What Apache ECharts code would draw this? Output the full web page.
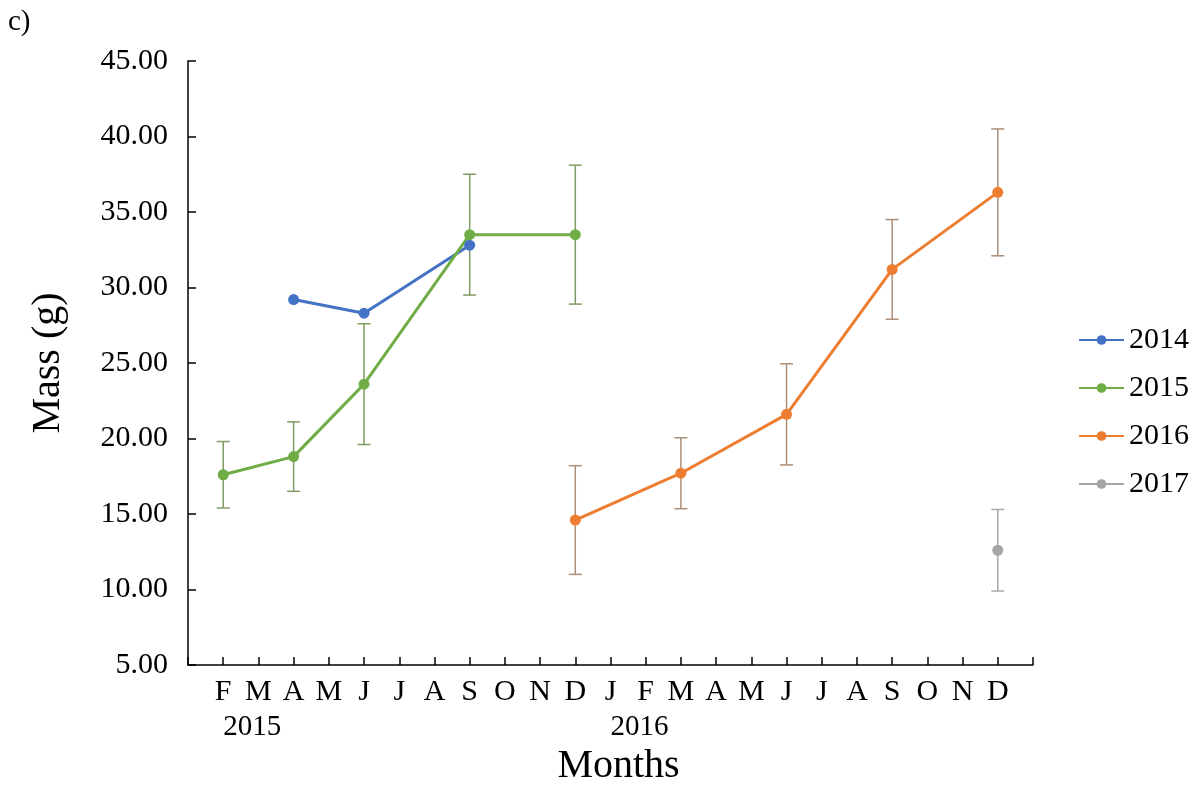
<!DOCTYPE html>
<html>
<head>
<meta charset="utf-8">
<script src="https://cdn.jsdelivr.net/npm/echarts@6/dist/echarts.min.js"></script>
<style>
html,body{margin:0;padding:0;background:#fff;}
#chart{width:1201px;height:785px;}
</style>
</head>
<body>
<div id="chart"></div>
<script>
// Categories: Jan 2015 ... Jan 2017 (monthly)
var categories = ['2015-01','2015-02','2015-03','2015-04','2015-05','2015-06','2015-07','2015-08','2015-09','2015-10','2015-11','2015-12',
                  '2016-01','2016-02','2016-03','2016-04','2016-05','2016-06','2016-07','2016-08','2016-09','2016-10','2016-11','2016-12','2017-01'];
var monthLabels = ['', 'F','M','A','M','J','J','A','S','O','N','D','J','F','M','A','M','J','J','A','S','O','N','D',''];
var yearLabels  = ['', '2015','','','','','','','','','','','2016','','','','','','','','','','','',''];
var seriesNames = ['2014','2015','2016','2017'];

// Mean mass (g); null = no sample
var mass2014 = [null,null,null,29.2,null,28.3,null,null,32.8,null,null,null,null,null,null,null,null,null,null,null,null,null,null,null,null];
var mass2015 = [null,17.6,null,18.8,null,23.6,null,null,33.5,null,null,33.5,null,null,null,null,null,null,null,null,null,null,null,null,null];
var mass2016 = [null,null,null,null,null,null,null,null,null,null,null,14.6,null,null,17.7,null,null,21.6,null,null,31.2,null,null,36.3,null];
var mass2017 = [null,null,null,null,null,null,null,null,null,null,null,null,null,null,null,null,null,null,null,null,null,null,null,12.6,null];

// Error bar half-widths (g)
var err2015 = [null,2.2,null,2.3,null,4.0,null,null,4.0,null,null,4.6,null,null,null,null,null,null,null,null,null,null,null,null,null];
var err2016 = [null,null,null,null,null,null,null,null,null,null,null,3.6,null,null,2.35,null,null,3.35,null,null,3.3,null,null,4.2,null];
var err2017 = [null,null,null,null,null,null,null,null,null,null,null,null,null,null,null,null,null,null,null,null,null,null,null,2.7,null];

var yTicks = {min: 5, max: 45, interval: 5};

var colors = ['#4472C4', '#70AD47', '#ED7D31', '#A5A5A5'];
var errColors = ['#4472C4', '#7f9a63', '#ad8e76', '#a8a8a8'];
var FONT = '"Liberation Serif", "Times New Roman", serif';

function errData(mean, err) {
  var out = [];
  for (var i = 0; i < mean.length; i++) {
    if (mean[i] != null && err[i] != null) out.push([i, mean[i] - err[i], mean[i] + err[i]]);
  }
  return out;
}

function errSeries(mean, err, color) {
  return {
    type: 'custom',
    xAxisIndex: 0,
    z: 1,
    silent: true,
    data: errData(mean, err),
    renderItem: function (params, api) {
      var x = api.value(0);
      var lo = api.coord([x, api.value(1)]);
      var hi = api.coord([x, api.value(2)]);
      var hw = 6.5;
      var st = {stroke: color, lineWidth: 1.5};
      return {
        type: 'group',
        children: [
          {type: 'line', shape: {x1: lo[0], y1: lo[1], x2: hi[0], y2: hi[1]}, style: st},
          {type: 'line', shape: {x1: lo[0] - hw, y1: lo[1], x2: lo[0] + hw, y2: lo[1]}, style: st},
          {type: 'line', shape: {x1: hi[0] - hw, y1: hi[1], x2: hi[0] + hw, y2: hi[1]}, style: st}
        ]
      };
    }
  };
}

function lineSeries(name, data, color) {
  return {
    name: name,
    type: 'line',
    xAxisIndex: 0,
    data: data,
    connectNulls: true,
    symbol: 'circle',
    symbolSize: 11,
    z: 3,
    itemStyle: {color: color},
    lineStyle: {color: color, width: 3}
  };
}

var chart = echarts.init(document.getElementById('chart'));
chart.setOption({
  animation: false,
  backgroundColor: '#fff',
  textStyle: {fontFamily: FONT},
  graphic: [{
    type: 'text', left: 8, top: 8,
    style: {text: 'c)', font: '29px ' + FONT, fill: '#000'}
  }],
  legend: {
    orient: 'vertical',
    left: 1073,
    top: 320,
    padding: 5,
    itemWidth: 45,
    itemHeight: 12,
    itemGap: 18,
    data: seriesNames,
    textStyle: {fontFamily: FONT, fontSize: 30, color: '#000', lineHeight: 30, padding: [0, 0, 0, 0]}
  },
  grid: {left: 188, right: 168, top: 61, bottom: 120, containLabel: false, outerBoundsMode: 'none'},
  xAxis: [{
    type: 'category',
    data: categories,
    boundaryGap: false,
    name: 'Months',
    nameLocation: 'middle',
    nameGap: 81,
    nameTextStyle: {fontFamily: FONT, fontSize: 40, color: '#000', padding: [0, 0, 0, 16]},
    axisLine: {lineStyle: {color: '#000', width: 1.5}},
    axisTick: {show: true, inside: true, length: 8, interval: 0, lineStyle: {color: '#000', width: 1.5}},
    axisLabel: {interval: 0, margin: 12, fontFamily: FONT, fontSize: 30, color: '#000',
      formatter: function (v, i) { return monthLabels[i]; }},
    splitLine: {show: false}
  }, {
    type: 'category',
    data: categories,
    boundaryGap: false,
    position: 'bottom',
    gridIndex: 0,
    axisLine: {show: false},
    axisTick: {show: false},
    axisLabel: {interval: 0, margin: 48, align: 'left', fontFamily: FONT, fontSize: 29, color: '#000',
      formatter: function (v, i) { return yearLabels[i]; }},
    splitLine: {show: false}
  }],
  yAxis: {
    type: 'value',
    min: yTicks.min,
    max: yTicks.max,
    interval: yTicks.interval,
    name: 'Mass (g)',
    nameLocation: 'middle',
    nameGap: 120,
    nameTextStyle: {fontFamily: FONT, fontSize: 40, color: '#000'},
    axisLine: {show: true, lineStyle: {color: '#000', width: 1.5}},
    axisTick: {show: true, inside: true, length: 8, lineStyle: {color: '#000', width: 1.5}},
    axisLabel: {margin: 20, fontFamily: FONT, fontSize: 30, color: '#000',
      formatter: function (v) { return v.toFixed(2); }},
    splitLine: {show: false}
  },
  series: [
    errSeries(mass2015, err2015, errColors[1]),
    errSeries(mass2016, err2016, errColors[2]),
    errSeries(mass2017, err2017, errColors[3]),
    lineSeries(seriesNames[0], mass2014, colors[0]),
    lineSeries(seriesNames[1], mass2015, colors[1]),
    lineSeries(seriesNames[2], mass2016, colors[2]),
    lineSeries(seriesNames[3], mass2017, colors[3])
  ]
});
</script>
</body>
</html>
